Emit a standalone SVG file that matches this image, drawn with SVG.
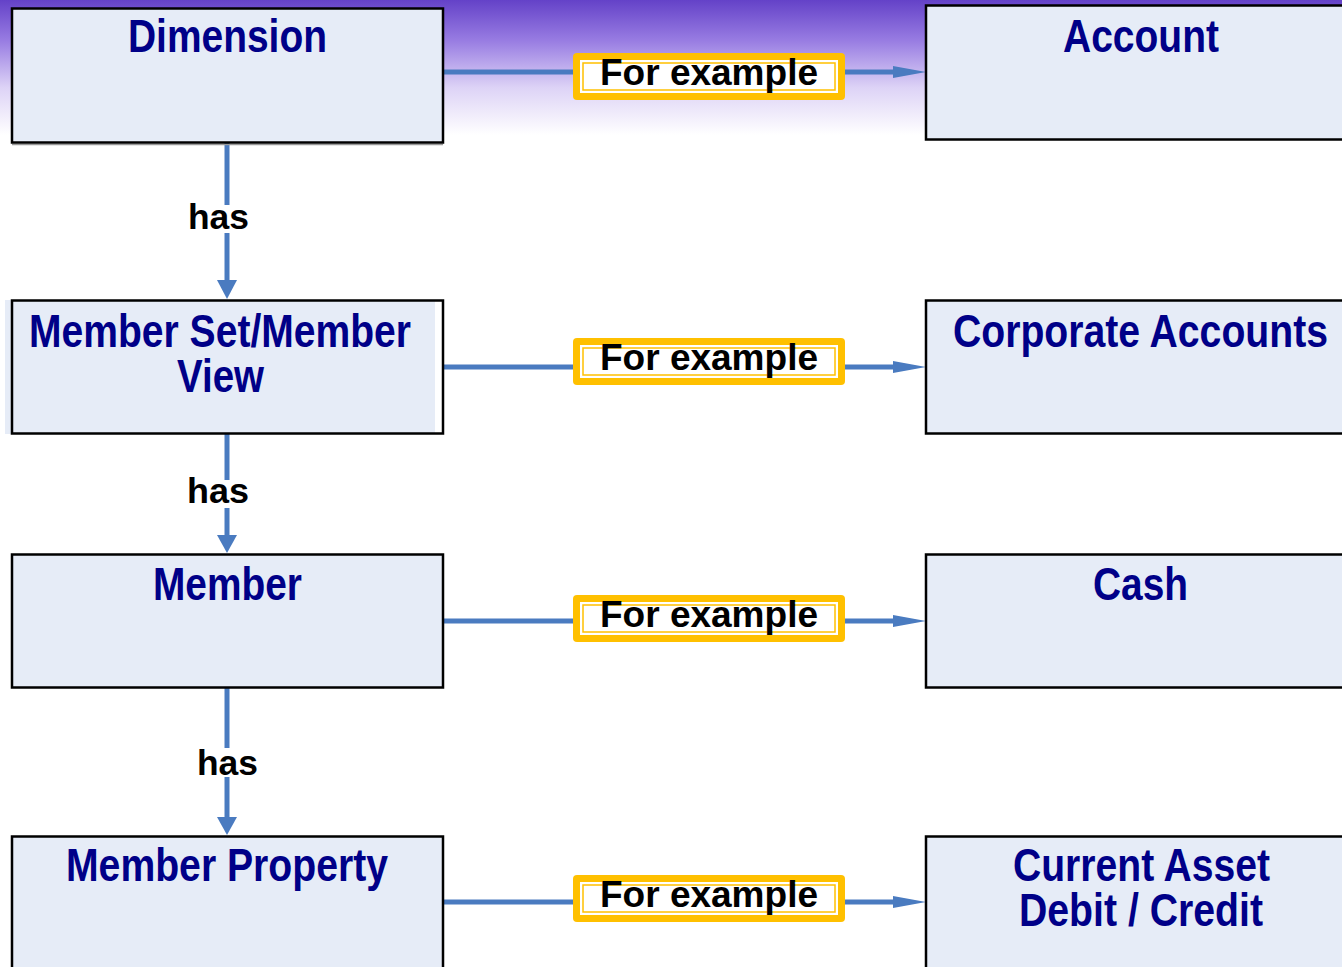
<svg xmlns="http://www.w3.org/2000/svg" width="1342" height="967" viewBox="0 0 1342 967">
<defs>
<linearGradient id="bg" x1="0" y1="0" x2="0" y2="1">
<stop offset="0" stop-color="#6442c8"/>
<stop offset="0.3" stop-color="#987ce2"/>
<stop offset="0.65" stop-color="#ddd3f6"/>
<stop offset="1" stop-color="#ffffff"/>
</linearGradient>
<style>
.box{fill:#e6ecf7;stroke:#000;stroke-width:2.5}
.t{font-family:"Liberation Sans",Arial,sans-serif;font-weight:bold;font-size:46px;fill:#000088;text-anchor:middle}
.fe{font-family:"Liberation Sans",Arial,sans-serif;font-weight:bold;font-size:36px;fill:#000}
.has{font-family:"Liberation Sans",Arial,sans-serif;font-weight:bold;font-size:35px;fill:#000}
.ln{stroke:#4a7bc0;stroke-width:5;fill:none}
.ah{fill:#4a7bc0}
.lo{fill:#ffc000}
.li{fill:#fff}
.lr{fill:none;stroke:#ffc000;stroke-width:1.5}
</style>
</defs>
<rect x="0" y="0" width="1342" height="967" fill="#fff"/>
<rect x="0" y="0" width="1342" height="135" fill="url(#bg)"/>

<g id="connectors">
<line class="ln" x1="443" y1="72" x2="896" y2="72"/>
<polygon class="ah" points="893,66 926,72 893,78"/>
<line class="ln" x1="443" y1="367" x2="896" y2="367"/>
<polygon class="ah" points="893,361 926,367 893,373"/>
<line class="ln" x1="443" y1="621" x2="896" y2="621"/>
<polygon class="ah" points="893,615 926,621 893,627"/>
<line class="ln" x1="443" y1="902" x2="896" y2="902"/>
<polygon class="ah" points="893,896 926,902 893,908"/>

<line class="ln" x1="227" y1="139" x2="227" y2="205"/>
<line class="ln" x1="227" y1="233" x2="227" y2="284"/>
<polygon class="ah" points="217,280 237,280 227,299"/>
<text class="has" x="188" y="229" textLength="61" lengthAdjust="spacingAndGlyphs">has</text>

<line class="ln" x1="227" y1="434" x2="227" y2="480"/>
<line class="ln" x1="227" y1="508" x2="227" y2="538"/>
<polygon class="ah" points="217,535 237,535 227,553"/>
<text class="has" x="187" y="503" textLength="62" lengthAdjust="spacingAndGlyphs">has</text>

<line class="ln" x1="227" y1="688" x2="227" y2="748"/>
<line class="ln" x1="227" y1="777" x2="227" y2="820"/>
<polygon class="ah" points="217,817 237,817 227,835"/>
<text class="has" x="197" y="775" textLength="61" lengthAdjust="spacingAndGlyphs">has</text>

<g id="label1">
<rect class="lo" x="573" y="53" width="272" height="47" rx="4"/>
<rect class="li" x="580" y="60" width="258" height="33"/>
<rect class="lr" x="583" y="63" width="252" height="27"/>
<text class="fe" x="600" y="85" textLength="218" lengthAdjust="spacingAndGlyphs">For example</text>
</g>
<g id="label2">
<rect class="lo" x="573" y="338" width="272" height="47" rx="4"/>
<rect class="li" x="580" y="345" width="258" height="33"/>
<rect class="lr" x="583" y="348" width="252" height="27"/>
<text class="fe" x="600" y="370" textLength="218" lengthAdjust="spacingAndGlyphs">For example</text>
</g>
<g id="label3">
<rect class="lo" x="573" y="595" width="272" height="47" rx="4"/>
<rect class="li" x="580" y="602" width="258" height="33"/>
<rect class="lr" x="583" y="605" width="252" height="27"/>
<text class="fe" x="600" y="627" textLength="218" lengthAdjust="spacingAndGlyphs">For example</text>
</g>
<g id="label4">
<rect class="lo" x="573" y="875" width="272" height="47" rx="4"/>
<rect class="li" x="580" y="882" width="258" height="33"/>
<rect class="lr" x="583" y="885" width="252" height="27"/>
<text class="fe" x="600" y="907" textLength="218" lengthAdjust="spacingAndGlyphs">For example</text>
</g>
</g>

<g id="dimension">
<line x1="12" y1="144.5" x2="443" y2="144.5" stroke="#999" stroke-width="1.5"/>
<rect class="box" x="12" y="8.5" width="431" height="134"/>
<text class="t" x="227.5" y="52" textLength="199" lengthAdjust="spacingAndGlyphs">Dimension</text>
</g>
<g id="account">
<rect class="box" x="926" y="5.5" width="430" height="134"/>
<text class="t" x="1141" y="52" textLength="156" lengthAdjust="spacingAndGlyphs">Account</text>
</g>
<g id="memberset">
<rect x="12" y="300" width="431" height="134" fill="#fff"/>
<rect x="5" y="300" width="430" height="134" fill="#e6ecf7"/>
<rect x="12" y="300.5" width="431" height="133" fill="none" stroke="#000" stroke-width="2.5"/>
<text class="t" x="220" y="347" textLength="382" lengthAdjust="spacingAndGlyphs">Member Set/Member</text>
<text class="t" x="220.5" y="392" textLength="87" lengthAdjust="spacingAndGlyphs">View</text>
</g>
<g id="corporate">
<rect class="box" x="926" y="300.5" width="430" height="133"/>
<text class="t" x="1140.5" y="347" textLength="375" lengthAdjust="spacingAndGlyphs">Corporate Accounts</text>
</g>
<g id="member">
<rect class="box" x="12" y="554.5" width="431" height="133"/>
<text class="t" x="227.5" y="600" textLength="149" lengthAdjust="spacingAndGlyphs">Member</text>
</g>
<g id="cash">
<rect class="box" x="926" y="554.5" width="430" height="133"/>
<text class="t" x="1140.5" y="600" textLength="95" lengthAdjust="spacingAndGlyphs">Cash</text>
</g>
<g id="memberproperty">
<rect class="box" x="12" y="836.5" width="431" height="140"/>
<text class="t" x="227" y="881" textLength="322" lengthAdjust="spacingAndGlyphs">Member Property</text>
</g>
<g id="currentasset">
<rect class="box" x="926" y="836.5" width="430" height="140"/>
<text class="t" x="1141.5" y="881" textLength="257" lengthAdjust="spacingAndGlyphs">Current Asset</text>
<text class="t" x="1141" y="926" textLength="244" lengthAdjust="spacingAndGlyphs">Debit / Credit</text>
</g>
</svg>
